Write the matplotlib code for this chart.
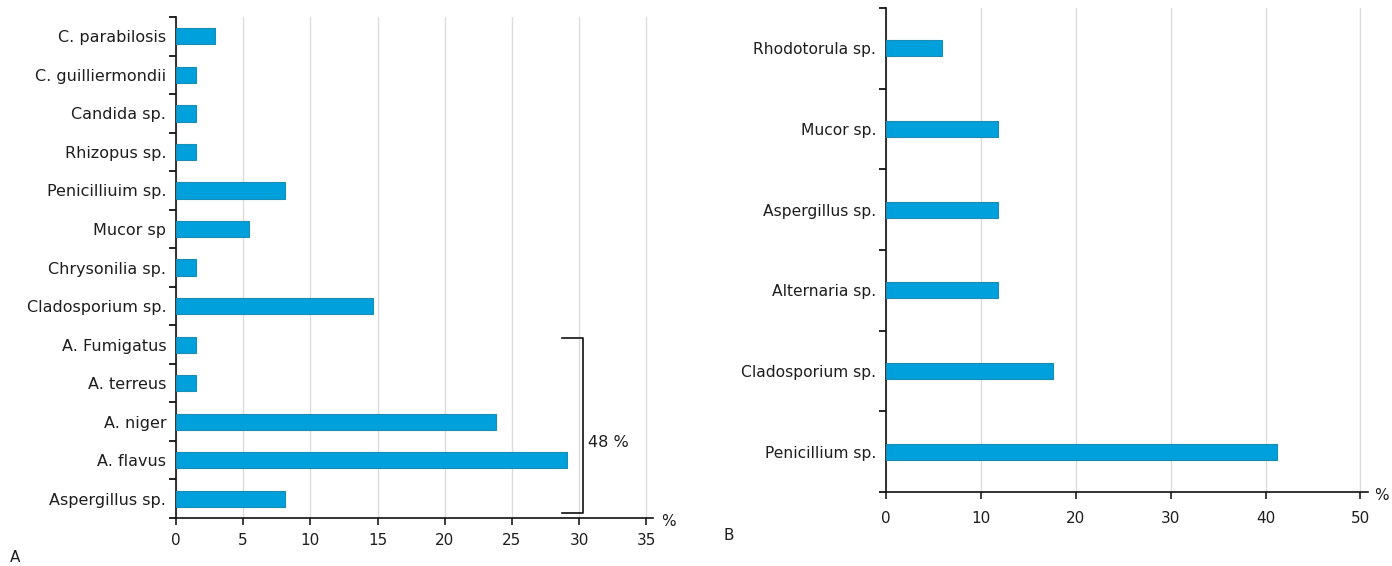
import numpy as np
import matplotlib.pyplot as plt

# Panel A: fungal isolates, percentage of positive samples
species_a = ['Aspergillus sp.', 'A. flavus', 'A. niger', 'A. terreus', 'A. Fumigatus',
             'Cladosporium sp.', 'Chrysonilia sp.', 'Mucor sp', 'Penicilliuim sp.',
             'Rhizopus sp.', 'Candida sp.', 'C. guilliermondii', 'C. parabilosis']
pct_a = [8.1, 29.1, 23.8, 1.5, 1.5, 14.7, 1.5, 5.4, 8.1, 1.5, 1.5, 1.5, 2.9]
ticks_a = [0, 5, 10, 15, 20, 25, 30, 35]

# Panel B
species_b = ['Penicillium sp.', 'Cladosporium sp.', 'Alternaria sp.',
             'Aspergillus sp.', 'Mucor sp.', 'Rhodotorula sp.']
pct_b = [41.2, 17.6, 11.8, 11.8, 11.8, 5.9]
ticks_b = [0, 10, 20, 30, 40, 50]

aspergillus_total = '48 %'

BAR_COLOR = '#00a0dc'
EDGE_COLOR = '#1b8db3'
GRID_COLOR = '#dcdcdc'
TEXT_COLOR = '#1e1e1e'

plt.rcParams['font.family'] = 'DejaVu Sans'
plt.rcParams['font.size'] = 11

fig = plt.figure(figsize=(13.92, 5.66), dpi=100)
ax_a = fig.add_axes([0.1264, 0.0848, 0.3427, 0.885])
ax_b = fig.add_axes([0.6365, 0.1307, 0.3463, 0.855])


def style_axis(ax, labels, values, ticks, xmax, bar_h, label_size, xpad):
    n = len(labels)
    pos = np.arange(n)
    ax.barh(pos, values, height=bar_h, color=BAR_COLOR, edgecolor=EDGE_COLOR,
            linewidth=0.8, zorder=3)
    ax.set_xlim(0, xmax)
    ax.set_ylim(-0.5, n - 0.5)
    ax.set_xticks(ticks)
    ax.set_yticks(pos)
    ax.set_yticklabels(labels, color=TEXT_COLOR, fontsize=label_size)
    ax.set_yticks(np.arange(n + 1) - 0.5, minor=True)
    ax.tick_params(axis='y', which='major', length=0, pad=7)
    ax.tick_params(axis='y', which='minor', length=5, width=1.2, direction='out')
    ax.tick_params(axis='x', length=5, width=1.2, direction='out', pad=xpad,
                   colors=TEXT_COLOR, labelsize=11)
    ax.grid(axis='x', color=GRID_COLOR, linewidth=1, zorder=0)
    for side in ('top', 'right'):
        ax.spines[side].set_visible(False)
    for side in ('left', 'bottom'):
        ax.spines[side].set_linewidth(1.2)
        ax.spines[side].set_color('#111111')


style_axis(ax_a, species_a, pct_a, ticks_a, 35.5, 0.42, 11.5, 6)
style_axis(ax_b, species_b, pct_b, ticks_b, 50.8, 0.2, 11.2, 9)

# bracket grouping the Aspergillus isolates
bx, by0, by1 = 30.3, -0.37, 4.18
ax_a.plot([28.7, bx, bx, 28.7], [by0, by0, by1, by1], color='#111111',
          linewidth=1.2, clip_on=False, zorder=4)
ax_a.text(30.7, 1.45, aspergillus_total, fontsize=11.5, va='center', ha='left',
          color=TEXT_COLOR)

# unit markers and panel letters
fig.text(668 / 1392, 1 - 521 / 566, '%', fontsize=11, ha='center', va='center',
         color=TEXT_COLOR)
fig.text(1381 / 1392, 1 - 495 / 566, '%', fontsize=11, ha='center', va='center',
         color=TEXT_COLOR)
fig.text(15 / 1392, 1 - 557 / 566, 'A', fontsize=11, ha='center', va='center',
         color=TEXT_COLOR)
fig.text(729 / 1392, 1 - 535 / 566, 'B', fontsize=11, ha='center', va='center',
         color=TEXT_COLOR)

fig.savefig('out.png', dpi=100)
